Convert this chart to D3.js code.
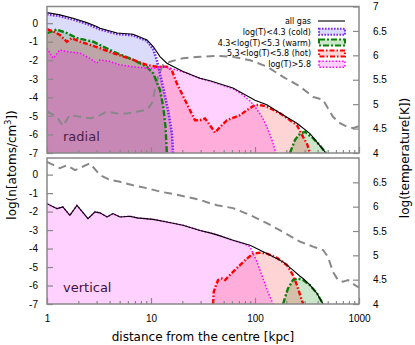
<!DOCTYPE html>
<html>
<head>
<meta charset="utf-8">
<script src="https://cdn.jsdelivr.net/npm/d3@7"></script>
<style>
  body { margin: 0; background: #fff; }
  svg { display: block; font-family: "DejaVu Sans", sans-serif; }
</style>
</head>
<body>
<svg id="chart" width="415" height="345"></svg>
<script>
// [distance kpc, log n]  (null = below the plot, gap in the curve)
const radialAll = [[1,0.57],[1.33,0.45],[1.78,0.27],[2.41,0.03],[3.0,-0.18],[3.23,-0.27],[4.71,-0.53],[6.71,-0.6],[9.15,-0.9],[10.5,-1.26],[12.2,-1.8],[14.2,-2.16],[20.3,-2.6],[29.6,-2.97],[36.9,-3.1],[61.4,-3.5],[100,-4.15],[130,-4.4],[186,-4.95],[253,-5.4],[338,-5.95],[400,-6.45],[481,-7]];
const radialCold = [[1,0.48],[1.33,0.38],[1.78,0.2],[2.41,-0.03],[3.23,-0.33],[4.71,-0.58],[6.71,-0.65],[9.15,-0.95],[10.5,-1.4],[11.4,-2.0],[13.0,-3.4],[14.6,-4.7],[15.9,-5.95],[16.3,-7]];
const radialWarm = [[1,-0.54],[1.24,-0.34],[1.55,-0.53],[1.93,-0.8],[2.79,-1.0],[4.34,-1.53],[6.77,-1.98],[9.1,-2.35],[10.5,-2.7],[12.2,-3.6],[13.1,-4.5],[13.8,-5.6],[14.2,-7],[20,null],[217,-7],[242,-6.3],[271,-5.95],[303,-5.86],[361,-6.2],[422,-6.6],[481,-7]];
const radialHot = [[1,-0.32],[1.15,-0.45],[1.33,-0.63],[1.55,-1.0],[1.73,-0.81],[2.08,-1.0],[2.59,-1.17],[3.23,-1.35],[4.34,-1.62],[6.77,-1.98],[9.1,-2.25],[11.3,-2.35],[13.1,-2.35],[14.2,-2.35],[15.8,-2.52],[17.7,-3.24],[20.5,-3.97],[23.7,-4.69],[26.5,-5.23],[29.6,-5.23],[33,-5.14],[36.9,-5.5],[41.2,-5.9],[46.1,-5.6],[53.8,-5.23],[61.4,-5.1],[71.7,-4.96],[83.8,-4.68],[100,-4.41],[111.7,-4.41],[130,-4.5],[174,-4.86],[217,-5.23],[253,-5.5],[290,-6.13],[316,-6.5],[338,-7]];
const radialHigh = [[1,-1.35],[1.15,-1.89],[1.33,-1.44],[1.55,-1.53],[2.08,-1.62],[2.59,-1.9],[3.0,-2.16],[3.23,-1.98],[4.03,-2.07],[5.03,-2.25],[6.77,-2.35],[9.1,-2.43],[11.3,-2.43],[13.1,-2.35],[15.2,-2.43],[20.3,-2.62],[29.6,-2.98],[36.9,-3.12],[61.4,-3.52],[76.7,-3.88],[89.6,-4.2],[100,-4.5],[116.7,-5.05],[130,-5.59],[145.6,-6.3],[159,-7]];
// [distance kpc, log T]
const radialTemp = [[1,4.85],[1.25,4.74],[1.42,4.55],[1.66,4.78],[2.08,4.74],[2.59,4.71],[3.02,4.74],[3.78,4.85],[4.71,4.81],[5.88,4.81],[7.33,4.85],[9.15,4.88],[10.2,5.02],[10.9,5.29],[11.7,5.56],[13.0,5.8],[15.2,5.87],[20.3,5.94],[29.6,5.97],[43.1,5.99],[61.4,5.97],[89.6,5.9],[130,5.77],[186,5.56],[271,5.36],[361,5.15],[451,5.09],[492,4.95],[562,4.74],[656,4.61],[767,4.54],[875,4.51],[1000,4.55]];

const vertAll = [[1,-1.57],[1.25,-1.84],[1.42,-1.75],[1.66,-2.2],[1.94,-1.66],[2.48,-2.38],[2.89,-2.02],[3.23,-2.07],[3.78,-2.29],[4.31,-2.11],[5.03,-2.29],[6.28,-2.25],[7.33,-2.34],[10.5,-2.42],[14.2,-2.56],[20.3,-2.74],[29.6,-3.02],[36.9,-3.15],[43.1,-3.26],[61.4,-3.55],[89.6,-3.82],[130,-4.27],[186,-4.72],[232,-5.17],[271,-5.5],[290,-5.62],[338,-5.98],[395,-6.43],[451,-7]];
const vertHot = [[39.5,-7],[40.1,-6.34],[42.2,-5.98],[44.2,-5.7],[48.2,-5.62],[51.5,-5.7],[55,-5.53],[61.4,-5.26],[71.7,-4.9],[83.8,-4.54],[95.7,-4.27],[111.7,-4.22],[130,-4.27],[162.8,-4.5],[203,-4.9],[232,-5.44],[253,-5.98],[271,-6.5],[290,-7]];
const vertWarm = [[186,-7],[207.6,-6.16],[232,-5.7],[259,-5.62],[290,-5.7],[338,-5.98],[395,-6.43],[451,-7]];
const vertHigh = [[1,-1.57],[1.25,-1.84],[1.42,-1.75],[1.66,-2.2],[1.94,-1.66],[2.48,-2.38],[2.89,-2.02],[3.23,-2.07],[3.78,-2.29],[4.31,-2.11],[5.03,-2.29],[6.28,-2.25],[7.33,-2.34],[10.5,-2.42],[14.2,-2.56],[20.3,-2.74],[29.6,-3.02],[36.9,-3.15],[43.1,-3.26],[61.4,-3.55],[76.7,-3.72],[89.6,-3.9],[104.5,-4.72],[119.4,-5.62],[133.3,-6.34],[148.9,-7]];
const vertTemp = [[1,6.92],[1.33,6.79],[1.55,6.85],[1.86,6.75],[2.59,6.89],[3.23,6.65],[4.03,6.55],[5.03,6.51],[6.71,6.44],[9.15,6.38],[12.2,6.31],[16.3,6.26],[22.2,6.2],[29.6,6.14],[36.9,6.07],[43.1,6.03],[61.4,5.97],[89.6,5.83],[130,5.66],[186,5.48],[271,5.28],[361,5.18],[451,5.11],[503,4.97],[562,4.66],[628,4.49],[702,4.46],[784,4.49],[957,4.36],[1000,4.34]];

const xTicks = [1, 10, 100, 1000];
const nTicks = [-7, -6, -5, -4, -3, -2, -1, 0];
const tTicksTop = [4, 4.5, 5, 5.5, 6, 6.5, 7];
const tTicksBottom = [4, 4.5, 5, 5.5, 6, 6.5];
const legendLabels = ["all gas", "log(T)<4.3 (cold)", "4.3<log(T)<5.3 (warm)", "5.3<log(T)<5.8 (hot)", "log(T)>5.8"];

const styles = {
  cold: { stroke: "#7a2cf0", fill: "rgba(40,40,235,0.17)", width: 2.6, dash: "1.6,1.4" },
  warm: { stroke: "#0a800a", fill: "rgba(0,128,0,0.2)", width: 2.4, dash: "6,2,2,2" },
  hot:  { stroke: "#ff0000", fill: "rgba(255,0,0,0.17)", width: 2.4, dash: "5,2,1.5,2" },
  high: { stroke: "#ff00ff", fill: "rgba(255,0,255,0.18)", width: 1.5, dash: "1.5,1.8" }
};

const svg = d3.select("#chart");
const left = 47, right = 359;
const x = d3.scaleLog().domain([1, 1000]).range([left, right]);

// plotted in legend order: cold, warm, hot, high
const panels = [
  { top: 6.5, bottom: 153, label: "radial", all: radialAll, temp: radialTemp, tTicks: tTicksTop,
    series: [["cold", radialCold], ["warm", radialWarm], ["hot", radialHot], ["high", radialHigh]], xLabels: false },
  { top: 158, bottom: 304, label: "vertical", all: vertAll, temp: vertTemp, tTicks: tTicksBottom,
    series: [["warm", vertWarm], ["hot", vertHot], ["high", vertHigh]], xLabels: true }
];

const minorTicks = [];
[1, 10, 100].forEach(d => { for (let k = 2; k <= 9; k++) minorTicks.push(k * d); });

panels.forEach((p, i) => {
  const yN = d3.scaleLinear().domain([-7, 0.9]).range([p.bottom, p.top]);
  const yT = d3.scaleLinear().domain([4, 7]).range([p.bottom, p.top]);
  const defined = d => d[1] !== null;

  svg.append("clipPath").attr("id", "clip" + i)
    .append("rect").attr("x", left).attr("y", p.top)
    .attr("width", right - left).attr("height", p.bottom - p.top);

  const g = svg.append("g").attr("clip-path", `url(#clip${i})`);

  const area = d3.area().defined(defined)
    .x(d => x(d[0])).y0(yN(-7)).y1(d => yN(d[1]));
  const line = d3.line().defined(defined)
    .x(d => x(d[0])).y(d => yN(d[1]));

  // fills
  p.series.forEach(([key, data]) => {
    g.append("path").datum(data).attr("d", area)
      .attr("fill", styles[key].fill).attr("stroke", "none");
  });

  g.append("text").attr("x", 63).attr("y", p.bottom - 12)
    .attr("font-size", 13).attr("fill", i ? "#3d123d" : "#4a1f4a")
    .text(p.label);

  // temperature
  g.append("path").datum(p.temp)
    .attr("d", d3.line().x(d => x(d[0])).y(d => yT(d[1])))
    .attr("fill", "none").attr("stroke", "#888").attr("stroke-width", 2)
    .attr("stroke-dasharray", "8,5");

  // series lines
  p.series.forEach(([key, data]) => {
    g.append("path").datum(data).attr("d", line)
      .attr("fill", "none").attr("stroke", styles[key].stroke)
      .attr("stroke-width", styles[key].width)
      .attr("stroke-dasharray", styles[key].dash);
  });

  g.append("path").datum(p.all).attr("d", line)
    .attr("fill", "none").attr("stroke", "#000").attr("stroke-width", 1.1);

  // axes
  const ax = svg.append("g").attr("font-family", "DejaVu Sans").attr("font-size", 12);
  ax.append("g").attr("transform", `translate(${left},0)`)
    .call(d3.axisLeft(yN).tickValues(nTicks).tickFormat(d => String(d))
      .tickSizeInner(-6).tickSizeOuter(0).tickPadding(9));
  ax.append("g").attr("transform", `translate(${right},0)`)
    .call(d3.axisRight(yT).tickValues(p.tTicks).tickFormat(d => String(d))
      .tickSizeInner(-6).tickSizeOuter(0).tickPadding(14));
  ax.append("g").attr("transform", `translate(0,${p.bottom})`)
    .call(d3.axisBottom(x).tickValues(xTicks).tickFormat(p.xLabels ? (d => String(d)) : () => "")
      .tickSizeInner(-6).tickSizeOuter(0).tickPadding(11));
  ax.append("g").attr("transform", `translate(0,${p.bottom})`)
    .call(d3.axisBottom(x).tickValues(minorTicks).tickFormat(() => "")
      .tickSizeInner(-3).tickSizeOuter(0));
  ax.selectAll(".domain").remove();
  ax.selectAll(".tick line").attr("stroke", "#888").attr("stroke-width", 1.2);
  ax.selectAll(".tick text").attr("fill", "#000");

  svg.append("rect").attr("x", left).attr("y", p.top)
    .attr("width", right - left).attr("height", p.bottom - p.top)
    .attr("fill", "none").attr("stroke", "#888").attr("stroke-width", 1.5);
});

// axis titles
const yTitle = svg.append("text").attr("transform", "translate(16,165) rotate(-90)")
  .attr("text-anchor", "middle").attr("font-size", 12);
yTitle.append("tspan").text("log(n[atoms/cm");
yTitle.append("tspan").attr("font-size", 8).attr("dy", -5).text("3");
yTitle.append("tspan").attr("dy", 5).text("])");
svg.append("text").attr("transform", "translate(409,158) rotate(-90)")
  .attr("text-anchor", "middle").attr("font-size", 12)
  .text("log(temperature[K])");
svg.append("text").attr("x", 203).attr("y", 341)
  .attr("text-anchor", "middle").attr("font-size", 12)
  .text("distance from the centre [kpc]");

// legend
const legendKeys = [null, "cold", "warm", "hot", "high"];
const legend = svg.append("g").attr("font-family", "DejaVu Sans, sans-serif").attr("font-size", 8);
legendLabels.forEach((lab, i) => {
  const yRow = 21 + i * 10.8;
  legend.append("text").attr("x", 311).attr("y", yRow + 3)
    .attr("text-anchor", "end").text(lab);
  const k = legendKeys[i];
  if (!k) {
    legend.append("line").attr("x1", 318).attr("x2", 345).attr("y1", yRow).attr("y2", yRow)
      .attr("stroke", "#000").attr("stroke-width", 1.1);
  } else {
    legend.append("rect").attr("x", 319).attr("y", yRow - 3).attr("width", 26).attr("height", 6)
      .attr("fill", styles[k].fill).attr("stroke", styles[k].stroke)
      .attr("stroke-width", k === "high" ? 1.5 : 2).attr("stroke-dasharray", styles[k].dash);
  }
});
</script>
</body>
</html>
